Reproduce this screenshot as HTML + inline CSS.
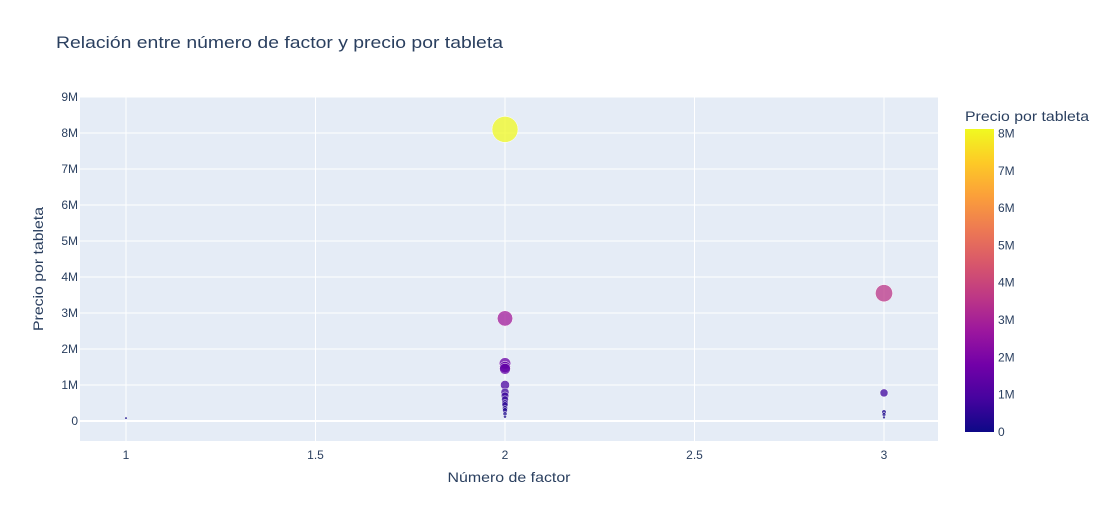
<!DOCTYPE html>
<html><head><meta charset="utf-8"><style>
body{margin:0;background:#fff;font-family:"Liberation Sans",Arial,sans-serif}
svg text{font-family:"Liberation Sans",Arial,sans-serif}
</style></head><body>
<svg id="c" width="1109" height="520">
<defs><linearGradient id="plasma" x1="0" y1="1" x2="0" y2="0">
<stop offset="0" stop-color="#0d0887"/><stop offset="0.111" stop-color="#46039f"/><stop offset="0.222" stop-color="#7201a8"/><stop offset="0.333" stop-color="#9c179e"/><stop offset="0.444" stop-color="#bd3786"/><stop offset="0.556" stop-color="#d8576b"/><stop offset="0.667" stop-color="#ed7953"/><stop offset="0.778" stop-color="#fb9f3a"/><stop offset="0.889" stop-color="#fdca26"/><stop offset="1" stop-color="#f0f921"/></linearGradient></defs>
<text x="56" y="48" font-size="17" fill="#2a3f5f" textLength="447" lengthAdjust="spacingAndGlyphs">Relación entre número de factor y precio por tableta</text>
<rect x="80" y="97" width="858" height="344" fill="#e5ecf6"/>
<g id="grid"></g><g id="marks"></g><g id="ticks"></g>
<text x="509" y="482" font-size="14" fill="#2a3f5f" text-anchor="middle" textLength="123" lengthAdjust="spacingAndGlyphs">Número de factor</text>
<text transform="translate(43,269) rotate(-90)" font-size="14" fill="#2a3f5f" text-anchor="middle" textLength="124" lengthAdjust="spacingAndGlyphs">Precio por tableta</text>
<text x="965" y="121" font-size="14" fill="#2a3f5f" textLength="124" lengthAdjust="spacingAndGlyphs">Precio por tableta</text>
<rect x="965" y="129" width="29" height="303" fill="url(#plasma)"/>
<g id="cbticks"></g>
</svg>
<script>
const xs=[1,2,2,2,2,2,2,2,2,2,2,2,2,2,2,2,3,3,3,3,3];
const ys=[0.08,8.1,2.85,1.6,1.5,1.45,1.0,0.8,0.7,0.6,0.5,0.45,0.35,0.3,0.2,0.12,3.55,0.78,0.25,0.18,0.1];
const xTicks=[1,1.5,2,2.5,3];
const yTicks=[0,1,2,3,4,5,6,7,8,9];
const cbTicks=[0,1,2,3,4,5,6,7,8];
const cmax=8.1;
const X=v=>126+(v-1)*379;
const Y=v=>421-v*36;
const CB=v=>432-v*(303/8.12);
const ns="http://www.w3.org/2000/svg";
function mk(t,a,p){const e=document.createElementNS(ns,t);for(const k in a)e.setAttribute(k,a[k]);p.appendChild(e);return e;}
const stops=["#0d0887","#46039f","#7201a8","#9c179e","#bd3786","#d8576b","#ed7953","#fb9f3a","#fdca26","#f0f921"];
function col(t){t=Math.max(0,Math.min(1,t))*9;const i=Math.min(8,Math.floor(t)),f=t-i;
const a=stops[i],b=stops[i+1];const p=(s,j)=>parseInt(s.substr(1+2*j,2),16);
return "rgb("+[0,1,2].map(j=>Math.round(p(a,j)+(p(b,j)-p(a,j))*f)).join(",")+")";}
const g=document.getElementById('grid'),tk=document.getElementById('ticks'),m=document.getElementById('marks'),cb=document.getElementById('cbticks');
xTicks.forEach(v=>{const l=mk('line',{x1:X(v),x2:X(v),y1:97,y2:441,stroke:'#fff','stroke-width':1},g);

const t=mk('text',{x:X(v),y:459,'font-size':12,fill:'#2a3f5f','text-anchor':'middle'},tk);t.textContent=v;
});
yTicks.forEach(v=>{const l=mk('line',{x1:80,x2:938,y1:Y(v),y2:Y(v),stroke:'#fff','stroke-width':v===0?2:1},g);

const t=mk('text',{x:78,y:Y(v)+4,'font-size':12,fill:'#2a3f5f','text-anchor':'end'},tk);t.textContent=v===0?'0':v+'M';
});
cbTicks.forEach(v=>{const t=mk('text',{x:998,y:CB(v)+4,'font-size':12,fill:'#2a3f5f'},cb);t.textContent=v===0?'0':v+'M';
});
const idx=ys.map((v,i)=>i).sort((a,b)=>ys[b]-ys[a]);
idx.forEach(i=>{const d=Math.max(2,26*Math.sqrt(ys[i]/cmax));
const c=mk('circle',{cx:X(xs[i]),cy:Y(ys[i]),r:d/2,fill:col(ys[i]/cmax),'fill-opacity':0.75,stroke:'#fff','stroke-width':0.5},m);
});
</script>
</body></html>
